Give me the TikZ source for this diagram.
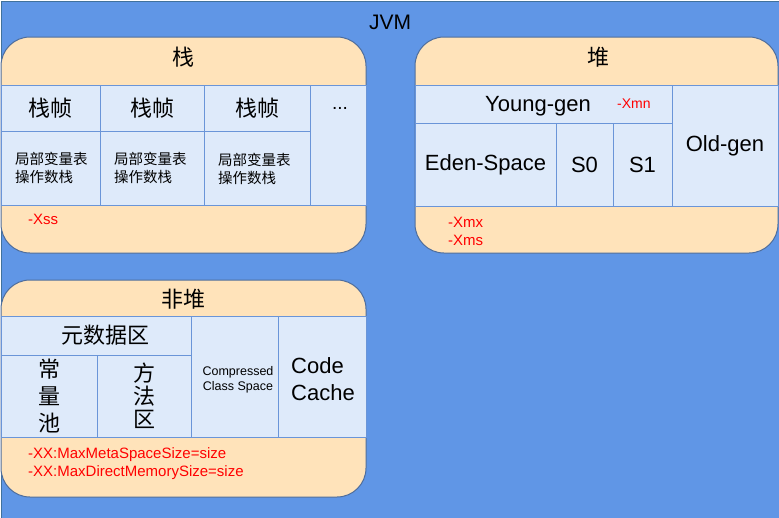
\documentclass[tikz,border=0pt]{standalone}
\usepackage{fontspec}
\setmainfont{Liberation Sans}
\newfontfamily\cjk{Noto Sans CJK SC}
\definecolor{jvmblue}{HTML}{6096E6}
\definecolor{jvmline}{HTML}{41719C}
\definecolor{peach}{HTML}{FFE3BA}
\definecolor{arealine}{HTML}{4E6D9C}
\definecolor{cellblue}{HTML}{DEEAFA}
\definecolor{cellline}{HTML}{6A95D8}
\newcommand{\fsz}[2]{\fontsize{#1}{#2}\selectfont}
\begin{document}
\begin{tikzpicture}[x=1pt,y=-1pt,%
% common options for the rounded areas:
area/.style = {draw=arealine, fill=peach, rounded corners=29pt, inner sep=0,
            line width=1pt},
% common options for the cells:
cell/.style = {draw=cellline, fill=cellblue, inner sep=0, align=center,
            line width=1pt, font=\cjk\fsz{22}{27}},
% common options for the red option texts:
flag/.style = {text=red, anchor=west, align=left, inner sep=0, font=\fsz{15}{18}}]
\useasboundingbox (0,0) rectangle (779,517);
\node[fill=jvmblue, draw=jvmline, anchor=north west, inner sep=0, minimum width=790, minimum height=530] (jvm) at (0.5,0.5) {};
\node[inner sep=0, font=\fsz{21}{21}] (jvmlabel) at (390,22) {JVM};
% stack
\node[area, minimum width=365, minimum height=216] (stack) at (183.5,145) {};
\node[inner sep=0, font=\cjk\fsz{22}{22}] (stacktitle) at (183,57) {栈};
\node[cell, minimum width=99, minimum height=46] (F1) at (50.5,108) {栈帧};
\node[cell, minimum width=104, minimum height=46] (F2) at (152,108) {栈帧};
\node[cell, minimum width=106, minimum height=46] (F3) at (257,108) {栈帧};
\node[cell, minimum width=99, minimum height=74] (V1) at (50.5,168) {};
\node[cell, minimum width=104, minimum height=74] (V2) at (152,168) {};
\node[cell, minimum width=106, minimum height=74] (V3) at (257,168) {};
\node[cell, minimum width=56, minimum height=120] (Fmore) at (338,145) {};
\node[inner sep=0, font=\fsz{19}{19}] (dots) at (340,108) {...};
\node[flag, font=\cjk\fsz{14.5}{18}, text=black] (L1) at (15,168) {局部变量表\\操作数栈};
\node[flag, font=\cjk\fsz{14.5}{18}, text=black] (L2) at (114,168) {局部变量表\\操作数栈};
\node[flag, font=\cjk\fsz{14.5}{18}, text=black] (L3) at (218,169) {局部变量表\\操作数栈};
\node[flag] (xss) at (28,219) {-Xss};
% heap
\node[area, minimum width=363, minimum height=216] (heap) at (596.5,145) {};
\node[inner sep=0, font=\cjk\fsz{22}{22}] (heaptitle) at (598,57) {堆};
\node[cell, minimum width=257, minimum height=38] (young) at (543.5,104) {};
\node[inner sep=0, font=\fsz{22}{22}] (younglabel) at (538,106) {Young-gen};
\node[flag, font=\fsz{14}{14}] (xmn) at (617,104) {-Xmn};
\node[cell, font=\fsz{22}{22}, minimum width=141, minimum height=83] (eden) at (485.5,164.5) {Eden-Space};
\node[cell, font=\fsz{22}{22}, minimum width=57, minimum height=83] (S0) at (584.5,164.5) {S0};
\node[cell, font=\fsz{22}{22}, minimum width=59, minimum height=83] (S1) at (642.5,164.5) {S1};
\node[cell, font=\fsz{22}{22}, minimum width=106, minimum height=121] (old) at (725,145.5) {Old-gen};
\node[flag] (xmx) at (448,231) {-Xmx\\-Xms};
% non-heap
\node[area, minimum width=365, minimum height=217] (nonheap) at (183.5,388.5) {};
\node[inner sep=0, font=\cjk\fsz{22}{22}] (nonheaptitle) at (183,299) {非堆};
\node[cell, minimum width=190, minimum height=39] (meta) at (96,335.5) {};
\node[inner sep=0, font=\cjk\fsz{22}{22}] (metalabel) at (105,335) {元数据区};
\node[cell, minimum width=96, minimum height=82] (const) at (49,396) {常\\量\\池};
\node[cell, font=\cjk\fsz{22}{23}, minimum width=94, minimum height=82] (method) at (144,396) {方\\法\\区};
\node[cell, minimum width=87, minimum height=121] (ccs) at (234.5,376.5) {};
\node[inner sep=0, align=center, font=\fsz{12.5}{15}] (ccslabel) at (238,380) {Compressed\\Class Space};
\node[cell, minimum width=88, minimum height=121] (code) at (322,376.5) {};
\node[inner sep=0, align=left, font=\fsz{22}{27}] (codelabel) at (323,379) {Code\\Cache};
\node[flag] (xxmeta) at (28,464) {-XX:MaxMetaSpaceSize=size\\-XX:MaxDirectMemorySize=size};
\end{tikzpicture}
\end{document}
